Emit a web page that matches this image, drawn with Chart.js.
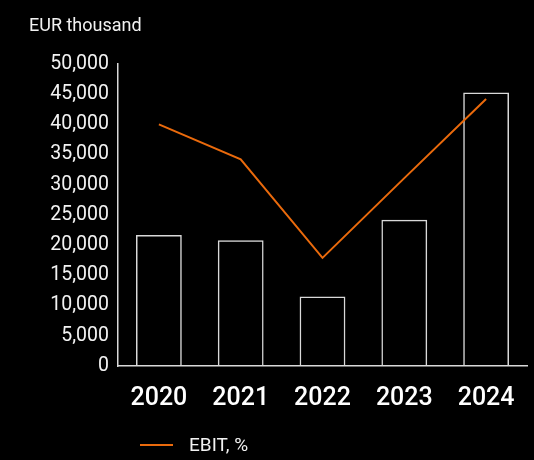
<!DOCTYPE html>
<html>
<head>
<meta charset="utf-8">
<script src="https://cdn.jsdelivr.net/npm/chart.js@4/dist/chart.umd.min.js"></script>
<style>
    html, body { margin: 0; padding: 0; background: #000; }
    #wrap { width: 534px; height: 460px; }
</style>
</head>
<body>
<div id="wrap"><canvas id="ebitChart" width="534" height="460"></canvas></div>
<script>
const years = ['2020', '2021', '2022', '2023', '2024'];
const ebitValues = [21700, 20800, 11500, 24200, 45300]; // EUR thousand
const ebitMargin = [40.0, 34.2, 17.9, 31.1, 44.2];      // EBIT, %
const yTicks = [0, 5000, 10000, 15000, 20000, 25000, 30000, 35000, 40000, 45000, 50000];

const orange = '#ea6a0c';
const axisColor = '#d9d9d9';

// Title above the axis and a single legend entry for the line
const customText = {
    id: 'customText',
    afterDraw: (chart) => {
        const ctx = chart.ctx;
        ctx.save();
        ctx.fillStyle = '#f2f2f2';
        ctx.font = '18px Roboto';
        ctx.textAlign = 'left';
        ctx.textBaseline = 'middle';
        ctx.fillText('EUR thousand', 29, 26);

        // legend
        const legendY = 445;
        ctx.fillStyle = orange;
        ctx.fillRect(140, legendY - 1, 33, 2);
        ctx.fillStyle = '#f2f2f2';
        ctx.font = '19px Roboto';
        ctx.fillText('EBIT, %', 189, legendY + 1);
        ctx.restore();
    }
};

const ctx = document.getElementById('ebitChart').getContext('2d');
new Chart(ctx, {
    data: {
        labels: years,
        datasets: [
            {
                type: 'line',
                label: 'EBIT, %',
                data: ebitMargin,
                yAxisID: 'y1',
                borderColor: orange,
                backgroundColor: orange,
                borderWidth: 2,
                pointRadius: 0,
                tension: 0,
                order: 0
            },
            {
                type: 'bar',
                label: 'EBIT',
                data: ebitValues,
                yAxisID: 'y',
                backgroundColor: 'rgba(0,0,0,0)',
                borderColor: axisColor,
                borderWidth: 1.5,
                barPercentage: 0.56,
                categoryPercentage: 1,
                order: 1
            }
        ]
    },
    options: {
        responsive: false,
        animation: false,
        layout: {
            padding: { top: 64, right: 7, bottom: 36, left: 0 }
        },
        plugins: {
            legend: { display: false },
            tooltip: { enabled: false }
        },
        scales: {
            x: {
                grid: { display: false },
                border: { display: true, color: axisColor, width: 1.5 },
                ticks: {
                    color: '#ffffff',
                    padding: 10,
                    font: { family: 'Roboto', size: 25, weight: '500' }
                }
            },
            y: {
                min: 0,
                max: 50000,
                afterFit: (scale) => { scale.width = 118; },
                afterBuildTicks: (scale) => {
                    scale.ticks = yTicks.map(v => ({ value: v }));
                },
                grid: { display: false },
                border: { display: true, color: axisColor, width: 1.5 },
                ticks: {
                    color: '#f2f2f2',
                    padding: 1,
                    font: { family: 'Roboto', size: 19.5 },
                    callback: (value) => value.toLocaleString('en-US')
                }
            },
            y1: {
                display: false,
                min: 0,
                max: 50
            }
        }
    },
    plugins: [customText]
});
</script>
</body>
</html>
